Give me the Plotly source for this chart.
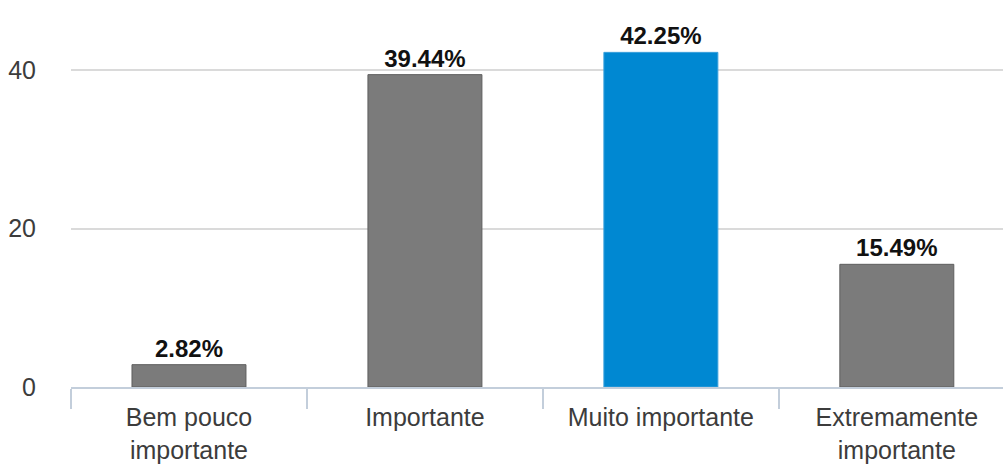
import plotly.graph_objects as go

categories = ["Bem pouco<br>importante", "Importante", "Muito importante", "Extremamente<br>importante"]
values = [2.82, 39.44, 42.25, 15.49]
labels = ["2.82%", "39.44%", "42.25%", "15.49%"]
bar_colors = ["#7b7b7b", "#7b7b7b", "#0088d2", "#7b7b7b"]
line_colors = ["#5e5e5e", "#5e5e5e", "#3aa0dc", "#5e5e5e"]
y_ticks = [0, 20, 40]

fig = go.Figure(go.Bar(
    x=categories, y=values,
    text=labels, textposition="outside",
    textfont=dict(family="Liberation Sans, Arial, sans-serif", size=24, color="#111111", weight="bold"),
    marker=dict(color=bar_colors, line=dict(color=line_colors, width=1)),
    cliponaxis=False,
    width=0.483,
))

fig.update_layout(
    width=1003, height=466,
    margin=dict(l=71, r=0, t=10, b=79),
    paper_bgcolor="white", plot_bgcolor="white",
    font=dict(family="Liberation Sans, Arial, sans-serif", size=25, color="#3c3c3c"),
    showlegend=False,
    xaxis=dict(
        range=[-0.5, 3.45],
        automargin=False,
        showline=True, linecolor="#c3cedb", linewidth=2,
        ticks="outside", tickson="boundaries", ticklen=20, tickwidth=2, tickcolor="#c3cedb",
        showgrid=False,
        ticklabelstandoff=7,
        tickfont=dict(size=25, color="#3c3c3c"),
    ),
    yaxis=dict(
        range=[0, 47.6],
        automargin=False,
        tickvals=y_ticks,
        showgrid=True, gridcolor="#dadada", gridwidth=2,
        zeroline=False, showline=False,
        ticklabelstandoff=34,
        tickfont=dict(size=25, color="#3c3c3c"),
    ),
)

fig.write_html(
    "out.html",
    config={"displayModeBar": False},
    post_script="document.body.style.margin='0';document.body.style.overflow='hidden';",
)
